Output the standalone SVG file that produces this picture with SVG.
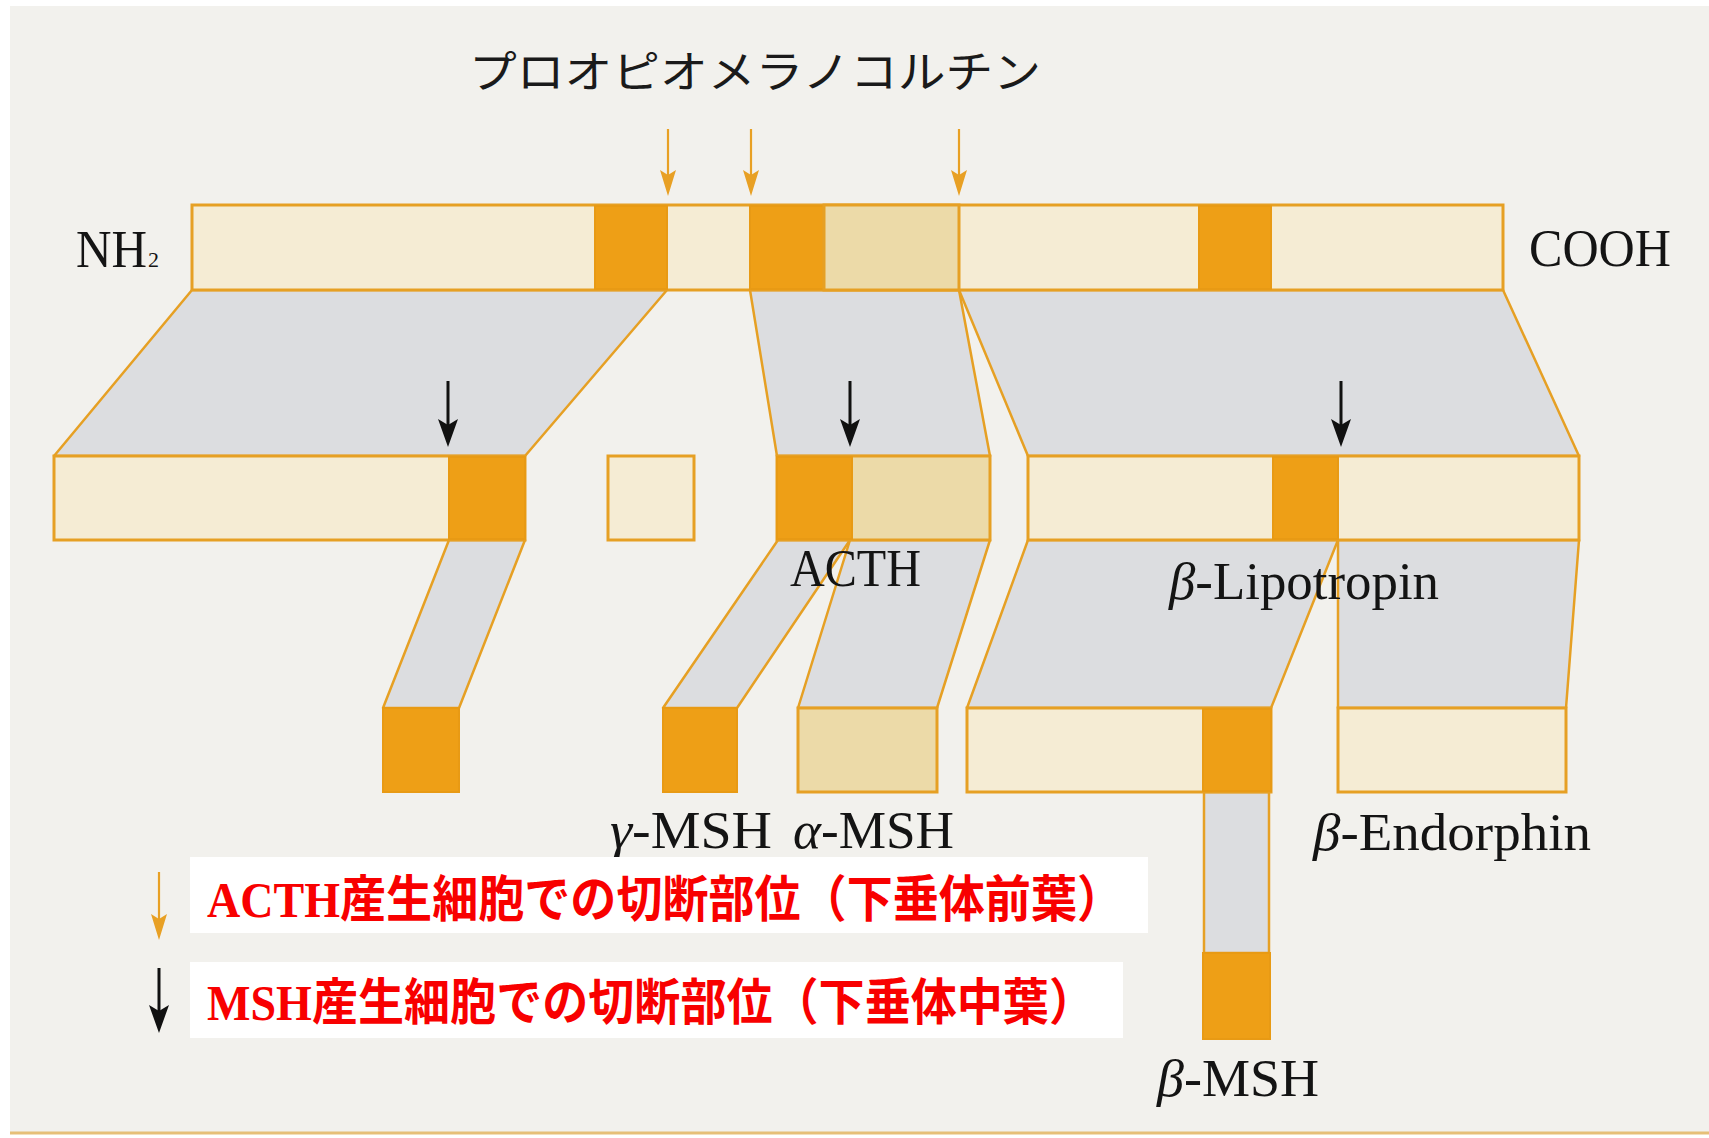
<svg xmlns="http://www.w3.org/2000/svg" width="1709" height="1138" viewBox="0 0 1709 1138">
  <style>
    .cream{fill:#f5ecd4;stroke:#e6a024;stroke-width:3}
    .orng{fill:#ee9f16;stroke:#e89a14;stroke-width:2}
    .tan{fill:#ecdaa8;stroke:#e6a024;stroke-width:3}
    .gray{fill:#dcdde0;stroke:#e6a024;stroke-width:2.5;stroke-linejoin:round}
    .lbl{font-family:"Liberation Serif","Times New Roman",serif;font-size:52px;fill:#141414}
    .title{font-family:"Noto Sans CJK JP",sans-serif;font-size:44px;fill:#1a1a1a}
    .leg{font-family:"Liberation Serif","Noto Sans CJK JP",serif;font-size:50px;font-weight:bold;fill:#f80000}
    .oarr{stroke:#e8a024;stroke-width:2.2;fill:none}
    .barr{stroke:#111;stroke-width:3;fill:none}
  </style>
  <defs>
    <marker id="hO" viewBox="0 0 26 16" refX="16" refY="8" markerWidth="26" markerHeight="16" markerUnits="userSpaceOnUse" orient="auto">
      <path d="M0,0 L26,8 L0,16 L5,8 Z" fill="#e8a024"/>
    </marker>
    <marker id="hB" viewBox="0 0 28 20" refX="18" refY="10" markerWidth="28" markerHeight="20" markerUnits="userSpaceOnUse" orient="auto">
      <path d="M0,0 L28,10 L0,20 L6,10 Z" fill="#111"/>
    </marker>
  </defs>

  <rect x="0" y="0" width="1709" height="1138" fill="#ffffff"/>
  <rect x="10" y="6" width="1699" height="1127" fill="#f2f1ed"/>
  <line x1="10" y1="1133" x2="1709" y2="1133" stroke="#e6bf78" stroke-width="3"/>

  <g id="title">
    <text class="title" x="469" y="88" textLength="572" lengthAdjust="spacingAndGlyphs">プロオピオメラノコルチン</text>
  </g>

  <!-- connectors: gray transition bands and cleavage arrows -->
  <g id="connectors">
    <polygon class="gray" points="192,290 667,290 525,456 54,456"/>
    <polygon class="gray" points="750,290 959,290 990,456 777,456"/>
    <polygon class="gray" points="959,290 1503,290 1579,456 1028,456"/>
    <polygon class="gray" points="449,540 525,540 459,708 383,708"/>
    <polygon class="gray" points="778,540 850,540 737,708 663,708"/>
    <polygon class="gray" points="850,540 990,540 937,708 798,708"/>
    <polygon class="gray" points="1028,540 1338,540 1271,708 967,708"/>
    <polygon class="gray" points="1338,540 1579,540 1566,708 1338,708"/>
    <rect class="gray" x="1204" y="792" width="65" height="161"/>

    <line class="oarr" x1="668" y1="129" x2="668" y2="186" marker-end="url(#hO)"/>
    <line class="oarr" x1="751" y1="129" x2="751" y2="186" marker-end="url(#hO)"/>
    <line class="oarr" x1="959" y1="129" x2="959" y2="186" marker-end="url(#hO)"/>
    <line class="barr" x1="448" y1="381" x2="448" y2="437" marker-end="url(#hB)"/>
    <line class="barr" x1="850" y1="381" x2="850" y2="437" marker-end="url(#hB)"/>
    <line class="barr" x1="1341" y1="381" x2="1341" y2="437" marker-end="url(#hB)"/>
  </g>

  <g id="pomc">
    <rect class="cream" x="192" y="205" width="1311" height="85"/>
    <rect class="orng" x="595" y="206" width="72" height="83"/>
    <rect class="orng" x="750" y="206" width="74" height="83"/>
    <rect class="tan" x="824" y="205" width="135" height="85"/>
    <rect class="orng" x="1199" y="206" width="72" height="83"/>
    <line x1="959" y1="205" x2="959" y2="290" stroke="#e6a024" stroke-width="2"/>
    <text class="lbl" x="76" y="267" textLength="71" lengthAdjust="spacingAndGlyphs">NH</text>
    <text class="lbl" x="148" y="267" style="font-size:22px">2</text>
    <text class="lbl" x="1529" y="266" textLength="142" lengthAdjust="spacingAndGlyphs">COOH</text>
  </g>

  <g id="nterm-fragment">
    <rect class="cream" x="54" y="456" width="471" height="84"/>
    <rect class="orng" x="449" y="457" width="76" height="82"/>
  </g>

  <g id="joining-peptide">
    <rect class="cream" x="608" y="456" width="86" height="84"/>
  </g>

  <g id="acth">
    <rect class="tan" x="777" y="456" width="213" height="84"/>
    <rect class="orng" x="777" y="457" width="75" height="82"/>
    <text class="lbl" x="790" y="586" textLength="131" lengthAdjust="spacingAndGlyphs">ACTH</text>
  </g>

  <g id="beta-lipotropin">
    <rect class="cream" x="1028" y="456" width="551" height="84"/>
    <rect class="orng" x="1273" y="457" width="65" height="82"/>
    <text class="lbl" x="1169" y="599" textLength="270" lengthAdjust="spacingAndGlyphs"><tspan font-style="italic">β</tspan>-Lipotropin</text>
  </g>

  <g id="gamma-msh-pre">
    <rect class="orng" x="383" y="708" width="76" height="84"/>
  </g>

  <g id="gamma-msh">
    <rect class="orng" x="663" y="708" width="74" height="84"/>
    <text class="lbl" x="610" y="848" textLength="162" lengthAdjust="spacingAndGlyphs"><tspan font-style="italic">γ</tspan>-MSH</text>
  </g>

  <g id="alpha-msh">
    <rect class="tan" x="798" y="708" width="139" height="84"/>
    <text class="lbl" x="793" y="848" textLength="161" lengthAdjust="spacingAndGlyphs"><tspan font-style="italic">α</tspan>-MSH</text>
  </g>

  <g id="gamma-lipotropin">
    <rect class="cream" x="967" y="708" width="304" height="84"/>
    <rect class="orng" x="1203" y="709" width="68" height="82"/>
  </g>

  <g id="beta-endorphin">
    <rect class="cream" x="1338" y="708" width="228" height="84"/>
    <text class="lbl" x="1313" y="850" textLength="278" lengthAdjust="spacingAndGlyphs"><tspan font-style="italic">β</tspan>-Endorphin</text>
  </g>

  <g id="beta-msh">
    <rect class="orng" x="1203" y="953" width="67" height="86"/>
    <text class="lbl" x="1157" y="1096" textLength="162" lengthAdjust="spacingAndGlyphs"><tspan font-style="italic">β</tspan>-MSH</text>
  </g>

  <g id="legend-acth">
    <line class="oarr" x1="159" y1="872" x2="159" y2="930" marker-end="url(#hO)"/>
    <rect x="190" y="857" width="958" height="76" fill="#ffffff"/>
    <text class="leg" x="207" y="917" textLength="916" lengthAdjust="spacingAndGlyphs">ACTH産生細胞での切断部位（下垂体前葉）</text>
  </g>

  <g id="legend-msh">
    <line class="barr" x1="159" y1="968" x2="159" y2="1023" marker-end="url(#hB)"/>
    <rect x="190" y="962" width="933" height="76" fill="#ffffff"/>
    <text class="leg" x="207" y="1020" textLength="888" lengthAdjust="spacingAndGlyphs">MSH産生細胞での切断部位（下垂体中葉）</text>
  </g>
</svg>
